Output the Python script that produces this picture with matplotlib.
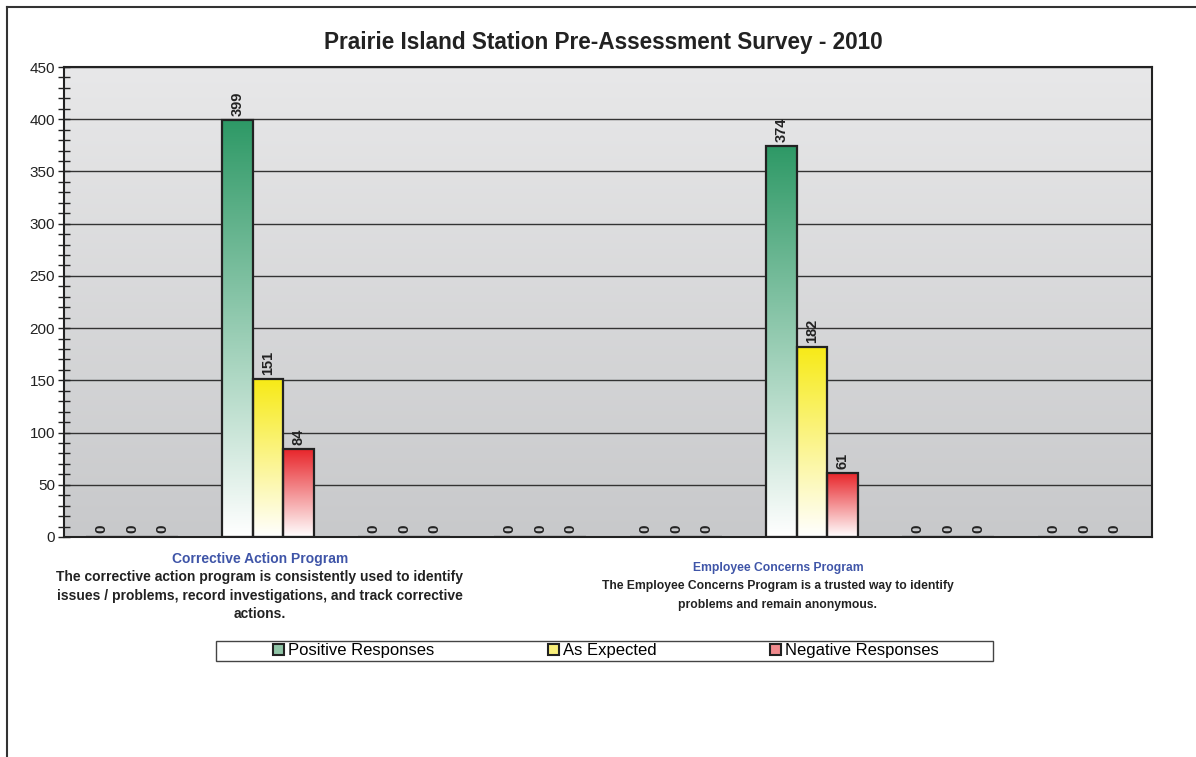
import matplotlib
matplotlib.use("Agg")
import matplotlib.pyplot as plt
import numpy as np
from matplotlib.colors import LinearSegmentedColormap
from matplotlib.lines import Line2D
from matplotlib.patches import Rectangle
from matplotlib.ticker import MultipleLocator

plt.rcParams['font.family'] = ['Liberation Sans', 'DejaVu Sans']

title = "Prairie Island Station Pre-Assessment Survey - 2010"
series_names = ["Positive Responses", "As Expected", "Negative Responses"]
positive = [0, 399, 0, 0, 0, 374, 0, 0]
as_expected = [0, 151, 0, 0, 0, 182, 0, 0]
negative = [0, 84, 0, 0, 0, 61, 0, 0]
series_values = [positive, as_expected, negative]
top_colors = ["#2e9966", "#f7ea16", "#e8262b"]

program_titles = ["Corrective Action Program", "Employee Concerns Program"]
program_texts = [
    ["The corrective action program is consistently used to identify",
     "issues / problems, record investigations, and track corrective",
     "actions."],
    ["The Employee Concerns Program is a trusted way to identify",
     "problems and remain anonymous."],
]

W, H = 1196, 757
fig = plt.figure(figsize=(W / 100, H / 100), dpi=100)
fig.patch.set_facecolor("white")

# outer chart frame (left and top edges)
fig.add_artist(Line2D([7 / W, 7 / W], [0, 1 - 7 / H], color="#333333", lw=1.5))
fig.add_artist(Line2D([7 / W, 1], [1 - 7 / H, 1 - 7 / H], color="#333333", lw=1.5))

ax = fig.add_axes([64 / W, 1 - 537 / H, (1152 - 64) / W, (537 - 67) / H])
n = len(positive)
ax.set_xlim(-0.5, n - 0.5)
ax.set_ylim(0, 450)

# plot-area background gradient
bg = np.linspace(0, 1, 256).reshape(-1, 1)
bg_cmap = LinearSegmentedColormap.from_list("bg", ["#c8c9cb", "#e8e8e9"])
ax.imshow(bg, cmap=bg_cmap, aspect="auto", extent=[0, 1, 0, 1],
          transform=ax.transAxes, origin="lower", zorder=0)

ax.yaxis.set_major_locator(MultipleLocator(50))
ax.yaxis.set_minor_locator(MultipleLocator(10))
ax.grid(axis="y", which="major", color="#333333", lw=1.0, zorder=1)
ax.tick_params(axis="y", which="both", direction="inout", color="#222222",
               labelsize=11, labelcolor="#222222", width=1.0, pad=2)
ax.tick_params(axis="y", which="major", length=9)
ax.tick_params(axis="y", which="minor", length=8)
ax.tick_params(axis="x", which="both", bottom=False, labelbottom=False)
for s in ax.spines.values():
    s.set_color("#222222")
    s.set_linewidth(1.5)
    s.set_zorder(5)

bw = 0.224
x = np.arange(n)
grad = np.linspace(0, 1, 256).reshape(-1, 1)
for i, (vals, col) in enumerate(zip(series_values, top_colors)):
    xs = x + (i - 1) * bw
    bars = ax.bar(xs, vals, width=bw, facecolor="none", edgecolor="#222222",
                  lw=1.6, zorder=4)
    cmap = LinearSegmentedColormap.from_list("g%d" % i, ["#ffffff", col])
    for b, v in zip(bars, vals):
        if v > 0:
            im = ax.imshow(grad, cmap=cmap, aspect="auto", origin="lower",
                           extent=[b.get_x(), b.get_x() + b.get_width(), 0, v],
                           zorder=3)
            im.set_clip_path(b)
        ax.annotate(str(v), (b.get_x() + b.get_width() / 2, v),
                    xytext=(0, 3), textcoords="offset points",
                    rotation=90, ha="center", va="bottom",
                    fontsize=10.5 if v > 0 else 11, fontweight="bold",
                    color="#222222", zorder=6)

# category captions under the two programmes with answers
caption_x = [0.94, 4.75]
caption_y = [559, 568]
caption_sizes = [10, 8.7]
for cx, cy, t, lines, fs in zip(caption_x, caption_y, program_titles,
                                program_texts, caption_sizes):
    px = ax.transData.transform((cx, 0))[0] / W
    fig.text(px, 1 - cy / H, t, ha="center", va="center", fontsize=fs,
             fontweight="bold", color="#3f55a8")
    for k, line in enumerate(lines):
        fig.text(px, 1 - (cy + 18.5 * (k + 1)) / H, line, ha="center",
                 va="center", fontsize=fs, fontweight="bold",
                 color="#222222")

# legend box and entries
fig.add_artist(Rectangle((216 / W, 1 - 661 / H), (993 - 216) / W, 20 / H,
                         transform=fig.transFigure, facecolor="white",
                         edgecolor="#444444", lw=1.0))
handles = [Rectangle((0, 0), 1, 1, facecolor=c, edgecolor="#222222", lw=1.5)
           for c in ["#8fc4a6", "#f9ef7a", "#f08a8d"]]
leg = fig.legend(handles, series_names, loc="center",
                 bbox_to_anchor=(606 / W, 1 - 651 / H),
                 ncol=3, frameon=False, fontsize=12,
                 handlelength=0.65, handleheight=0.65,
                 handletextpad=0.25, columnspacing=6.8, borderpad=0,
                 borderaxespad=0)

fig.text(603 / W, 1 - 43 / H, title, ha="center", va="center",
         fontsize=16.3, fontweight="bold", color="#222222")

fig.savefig("out.png", dpi=100)
